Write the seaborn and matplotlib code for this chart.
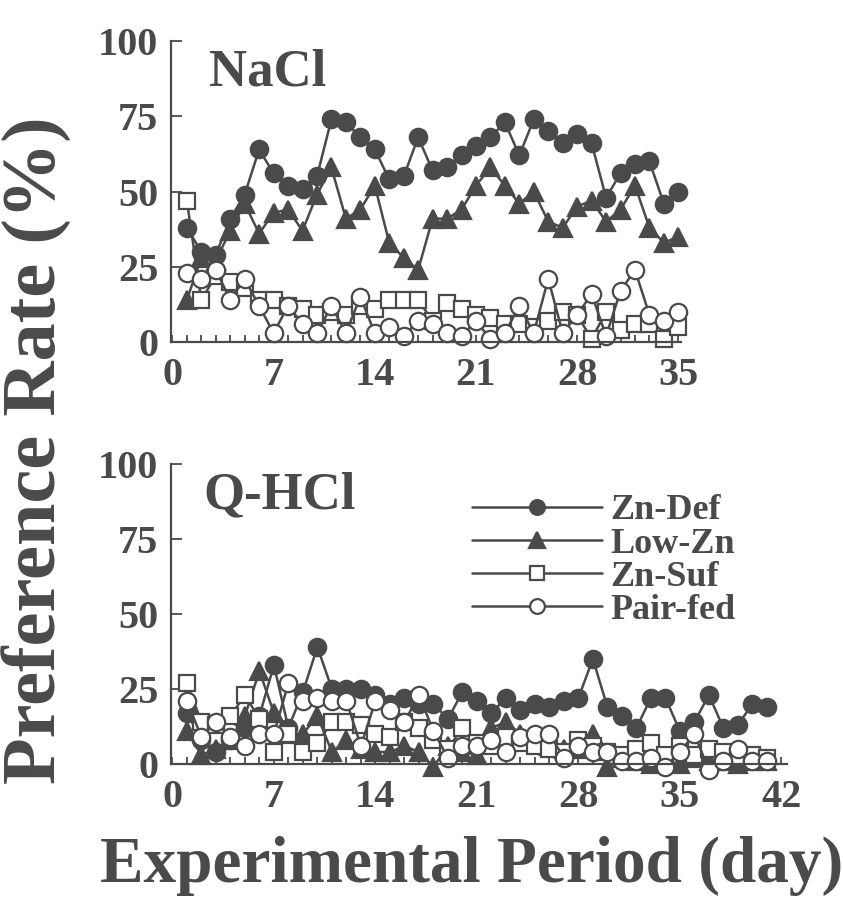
import numpy as np
import matplotlib
matplotlib.use("Agg")
import matplotlib.pyplot as plt
import seaborn as sns
from matplotlib.ticker import MultipleLocator

# NaCl panel (days 1-35)
nacl_days = list(range(1, 36))
nacl_zn_def = [38, 30, 29, 41, 49, 64, 56, 52, 51, 55, 74, 73, 68, 64, 54, 55, 68, 57, 58, 62,
               65, 68, 73, 62, 74, 70, 66, 69, 66, 48, 56, 59, 60, 46, 50]
nacl_low_zn = [14, 28, 27, 37, 46, 36, 43, 44, 37, 49, 58, 41, 44, 52, 33, 28, 24, 41, 41, 44,
               52, 58, 52, 46, 50, 40, 38, 45, 47, 40, 44, 52, 38, 33, 35]
nacl_zn_suf = [47, 14, 22, 20, 18, 14, 14, 12, 11, 9, 10, 9, 12, 11, 14, 14, 14, 7, 13, 11,
               9, 8, 6, 6, 5, 7, 10, 9, 1, 10, 4, 6, 6, 1, 5]
nacl_pair_fed = [23, 21, 24, 14, 21, 12, 3, 12, 6, 3, 12, 3, 15, 3, 5, 2, 7, 6, 3, 2,
                 7, 1, 3, 12, 3, 21, 3, 9, 16, 2, 17, 24, 9, 7, 10]

# Q-HCl panel (days 1-41)
qhcl_days = list(range(1, 42))
qhcl_zn_def = [17, 8, 4, 8, 12, 16, 33, 12, 24, 39, 25, 25, 25, 23, 20, 22, 20, 20, 15, 24,
               21, 17, 22, 18, 20, 19, 21, 22, 35, 19, 16, 12, 22, 22, 11, 14, 23, 12, 13, 20, 19]
qhcl_low_zn = [11, 3, 5, 8, 16, 31, 17, 10, 10, 16, 4, 8, 5, 4, 4, 6, 4, -1, 6, 4,
               3, 12, 14, 10, 8, 6, 5, 5, 10, -1, 2, 1, 0, 1, 0, 2, 1, 1, 0, 1, 1]
qhcl_zn_suf = [27, 14, 13, 16, 23, 15, 4, 10, 4, 7, 14, 14, 13, 10, 9, 14, 12, 8, 5, 12,
               7, 6, 9, 7, 6, 5, 4, 8, 6, 4, 3, 5, 7, 3, 6, 3, 5, 4, 2, 3, 2]
qhcl_pair_fed = [21, 9, 14, 9, 6, 10, 10, 27, 21, 22, 21, 21, 6, 21, 18, 14, 23, 11, 2, 6,
                 6, 8, 4, 9, 10, 10, 2, 6, 4, 4, 1, 1, 2, -1, 4, 10, -2, 1, 5, 1, 1]

group_names = ["Zn-Def", "Low-Zn", "Zn-Suf", "Pair-fed"]

sns.set_style("ticks")
plt.rcParams["font.family"] = ["Liberation Serif", "DejaVu Serif"]
plt.rcParams["font.weight"] = "bold"

ink = "#4a4a4a"
styles = {
    "Zn-Def": dict(marker="o", markersize=12.5, markerfacecolor=ink),
    "Low-Zn": dict(marker="^", markersize=13.5, markerfacecolor=ink),
    "Zn-Suf": dict(marker="s", markersize=12, markerfacecolor="white"),
    "Pair-fed": dict(marker="o", markersize=12.5, markerfacecolor="white"),
}
draw_order = ["Low-Zn", "Zn-Def", "Zn-Suf", "Pair-fed"]

fig = plt.figure(figsize=(8.43, 9.02), dpi=100)
ax_top = fig.add_axes([0.2028, 0.6208, 0.6053, 0.3337])
ax_bot = fig.add_axes([0.2028, 0.1530, 0.7310, 0.3326])


def draw_panel(ax, days, series, xmax, title, title_x, with_labels):
    for name in draw_order:
        sns.lineplot(x=days, y=series[name], ax=ax, color=ink, linewidth=1.8,
                     markeredgecolor=ink, markeredgewidth=1.6, clip_on=False,
                     label=name if with_labels else None, legend=False,
                     **styles[name])
    ax.set_xlim(-0.1, xmax)
    ax.set_ylim(0, 100)
    ax.xaxis.set_major_locator(MultipleLocator(7))
    ax.xaxis.set_minor_locator(MultipleLocator(1))
    ax.set_yticks([0, 25, 50, 75, 100])
    ax.tick_params(axis="x", which="both", direction="in", length=5, width=1.3,
                   color=ink, labelsize=29, labelcolor=ink, pad=11)
    ax.tick_params(axis="y", direction="in", length=8, width=1.3, color=ink,
                   labelsize=29, labelcolor=ink, pad=9)
    for lab in ax.get_xticklabels() + ax.get_yticklabels():
        lab.set_fontweight("bold")
    sns.despine(ax=ax)
    for sp in ["left", "bottom"]:
        ax.spines[sp].set_color(ink)
        ax.spines[sp].set_linewidth(1.6)
    ax.set_xlabel("")
    ax.set_ylabel("")
    ax.text(title_x, 0.975, title, transform=ax.transAxes, fontsize=38, fontweight="bold",
            color=ink, ha="left", va="top")


draw_panel(ax_top, nacl_days,
           {"Zn-Def": nacl_zn_def, "Low-Zn": nacl_low_zn,
            "Zn-Suf": nacl_zn_suf, "Pair-fed": nacl_pair_fed},
           35.2, "NaCl", 0.075, False)
draw_panel(ax_bot, qhcl_days,
           {"Zn-Def": qhcl_zn_def, "Low-Zn": qhcl_low_zn,
            "Zn-Suf": qhcl_zn_suf, "Pair-fed": qhcl_pair_fed},
           42.4, "Q-HCl", 0.053, True)

handles, labels = ax_bot.get_legend_handles_labels()
lookup = dict(zip(labels, handles))
leg = ax_bot.legend([lookup[n] for n in group_names], group_names,
                    loc="upper left", bbox_to_anchor=(472 / 843, 1 - 494 / 902),
                    bbox_transform=fig.transFigure, frameon=False, fontsize=26,
                    handlelength=3.6, handletextpad=0.22, labelspacing=0.0,
                    borderpad=0, borderaxespad=0, markerscale=0.85)
for t in leg.get_texts():
    t.set_color(ink)
    t.set_fontweight("bold")

fig.text(37 / 843, 1 - 450 / 902, "Preference Rate (%)", rotation=90, fontsize=55,
         fontweight="bold", color=ink, ha="center", va="center")
fig.text(472 / 843, 1 - 866 / 902, "Experimental Period (day)", fontsize=47,
         fontweight="bold", color=ink, ha="center", va="center")

fig.savefig("out.png", dpi=100, facecolor="white")
